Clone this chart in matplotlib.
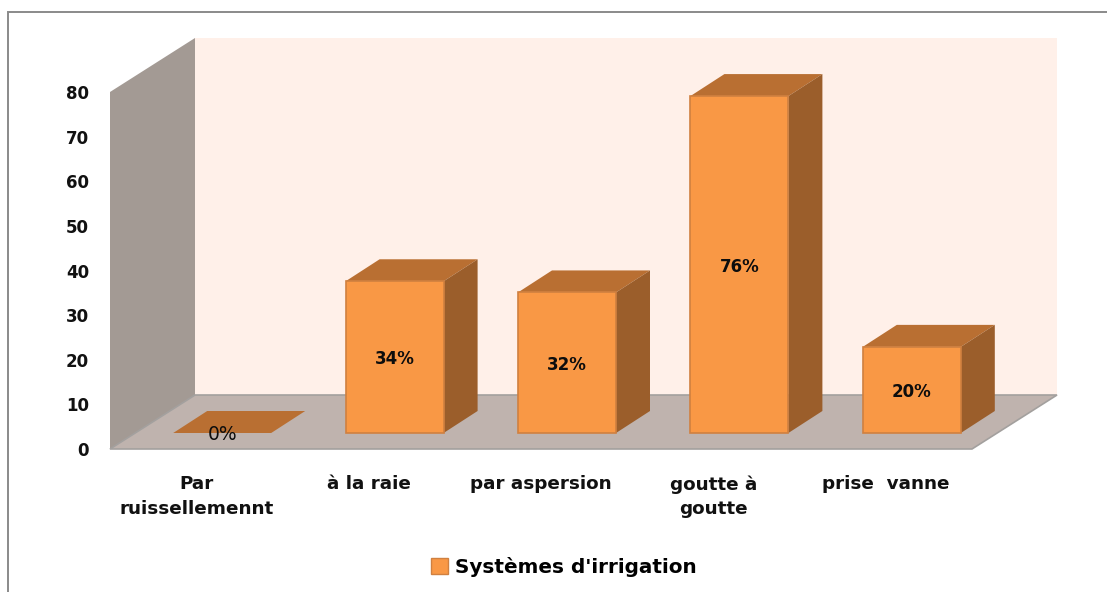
"""3D-look column chart of irrigation systems, drawn flat with matplotlib."""

import matplotlib

matplotlib.use("Agg")  # headless
import matplotlib.pyplot as plt  # noqa: E402
from matplotlib.patches import Patch, Polygon, Rectangle  # noqa: E402

categories = ["Par\nruissellemennt", "à la raie", "par aspersion", "goutte à\ngoutte", "prise  vanne"]
heights = [0, 34, 31.5, 75.5, 19.3]
percent_labels = ["0%", "34%", "32%", "76%", "20%"]
y_ticks = [0, 10, 20, 30, 40, 50, 60, 70, 80]
series_name = "Systèmes d'irrigation"

W, H = 1107, 592
X0, X1, Y0, Y80 = 110, 972, 449, 92  # plot front plane, pixels
PX_X = (X1 - X0) / len(categories)  # pixels per category
PX_Y = (Y0 - Y80) / 80  # pixels per value unit

plt.rcParams["font.family"] = ["DejaVu Sans"]
plt.rcParams["font.weight"] = "bold"

fig = plt.figure(figsize=(W / 100, H / 100), dpi=100)
ax = fig.add_axes([X0 / W, 1 - Y0 / H, (X1 - X0) / W, (Y0 - Y80) / H])
ax.set_xlim(0, len(categories))
ax.set_ylim(0, 80)
ax.set_axis_off()


def dx(px):
    return px / PX_X


def dy(px):
    return px / PX_Y


def poly(points, color, edge=None, lw=0.0, z=1):
    ax.add_patch(Polygon(points, closed=True, facecolor=color, edgecolor=edge or color,
                         linewidth=lw, clip_on=False, zorder=z))


# back wall, side wall and floor
n = len(categories)
wall_x, wall_y = dx(85), dy(54)
poly([(wall_x, wall_y), (n + wall_x, wall_y), (n + wall_x, 80 + wall_y), (wall_x, 80 + wall_y)], "#fff0e9")
poly([(0, 0), (wall_x, wall_y), (wall_x, 80 + wall_y), (0, 80)], "#a39a94")
poly([(0, 0), (n, 0), (n + wall_x, wall_y), (wall_x, wall_y)], "#bfb3ae", edge="#a3a09e", lw=1.2, z=2)

# columns
bar_w = dx(98)
side_x, side_y = dx(34), dy(22)
base_x, base_y = dx(26), dy(16)
for i, (h, lab) in enumerate(zip(heights, percent_labels)):
    left = i + 0.5 - bar_w / 2 + base_x
    right = left + bar_w
    top = base_y + h
    poly([(left, top), (right, top), (right + side_x, top + side_y), (left + side_x, top + side_y)], "#b96f32", z=3)
    if h > 0:
        poly([(right, base_y), (right + side_x, base_y + side_y), (right + side_x, top + side_y), (right, top)],
             "#9b5e2b", z=3)
        ax.add_patch(Rectangle((left, base_y), bar_w, h, facecolor="#f99845", edgecolor="#d08040",
                               linewidth=1.2, clip_on=False, zorder=4))
        ax.text((left + right) / 2, base_y + h / 2, lab, ha="center", va="center_baseline",
                fontsize=12, color="#0d0d0d", zorder=5)
    else:
        ax.text((left + right) / 2, dy(17), lab, ha="center", va="center_baseline",
                fontsize=13.5, color="#0d0d0d", zorder=5, weight="normal")

# axis labels
for v in y_ticks:
    ax.text(dx(-21), v, str(v), ha="right", va="center_baseline", fontsize=12, color="#111111", clip_on=False)
for i, cat in enumerate(categories):
    ax.text(i + 0.5, dy(-26), cat, ha="center", va="top", fontsize=13.2, color="#111111",
            linespacing=1.5, clip_on=False)

# outer chart frame, runs off the image on the right and at the bottom
fig.add_artist(Rectangle((8 / W, -0.02), 1.0, 1.02 - 12 / H, transform=fig.transFigure,
                         facecolor="none", edgecolor="#8a8a8a", linewidth=1.4))

fig.legend(handles=[Patch(facecolor="#f99845", edgecolor="#d08040", label=series_name)],
           loc="center", bbox_to_anchor=(564 / W, 1 - 567 / H), frameon=False, fontsize=14.4,
           handlelength=0.85, handleheight=0.85, handletextpad=0.35)

fig.savefig("out.png", dpi=100)
